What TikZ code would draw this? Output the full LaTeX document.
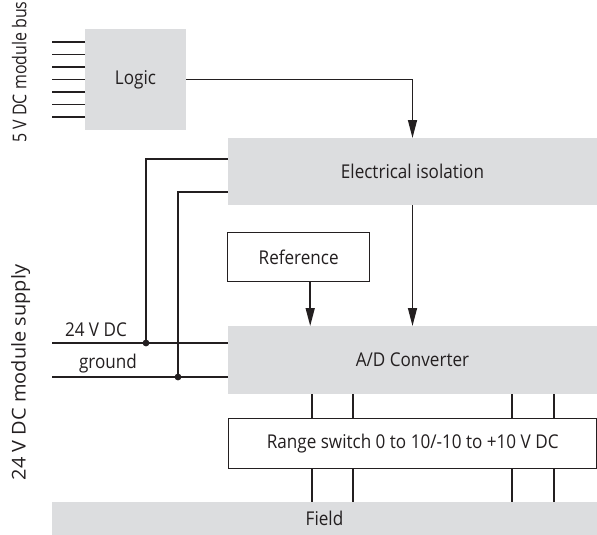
\documentclass[tikz,border=0pt]{standalone}
\usepackage{fontspec}
\usepackage{tikz}
\usetikzlibrary{arrows.meta}
\newfontfamily\labelfont[FakeStretch=0.9]{Open Sans}
\newfontfamily\buslabelfont[FakeStretch=0.84]{Open Sans}
\newfontfamily\supplylabelfont[FakeStretch=1.05]{Open Sans}
\definecolor{boxgray}{RGB}{220,221,223}
\definecolor{linegray}{RGB}{35,31,32}

\begin{document}
\begin{tikzpicture}[x=1pt, y=1pt,
	every node/.style={font=\labelfont\fontsize{19}{22}\selectfont, text=linegray, inner sep=0pt, outer sep=0pt},
	graybox/.style={rectangle, fill=boxgray, anchor=north west},
	whitebox/.style={rectangle, draw=linegray, line width=1.5pt, fill=white, anchor=north west},
	wire/.style={draw=linegray, line width=1.5pt},
	arrow/.style={wire, -{Triangle[length=18pt, width=9pt]}}]
	\useasboundingbox (0,0) rectangle (597,-535);
	% boxes
	\node[graybox, minimum width=101pt, minimum height=101pt] (logic) at (85,-29) {Logic};
	\node[graybox, minimum width=369pt, minimum height=67pt] (isol) at (228,-138) {Electrical isolation};
	\node[whitebox, minimum width=142pt, minimum height=49pt] (ref) at (227.7,-232.7) {Reference};
	\node[graybox, minimum width=369pt, minimum height=68pt] (ad) at (228,-326) {A/D Converter};
	\node[whitebox, minimum width=368pt, minimum height=50pt] (range) at (228.7,-418.7) {Range switch 0 to 10/-10 to +10 V DC};
	\node[graybox, minimum width=545pt, minimum height=33pt] (field) at (52,-502) {Field};
	% side labels
	\node[rotate=90, anchor=base, font=\buslabelfont\fontsize{19}{22}\selectfont] (buslabel) at (26.5,-72) {5 V DC module bus};
	\node[rotate=90, anchor=base, font=\supplylabelfont\fontsize{19}{22}\selectfont] (supplylabel) at (25.5,-372.5) {24 V DC module supply};
	\node[anchor=base west] (vdclabel) at (65,-336) {24 V DC};
	\node[anchor=base west] (gndlabel) at (79,-368) {ground};
	% module bus
	\foreach \k in {0,...,6}
		\draw[wire] ([yshift={-13pt-12.5pt*\k}]logic.north west) -- ++(-33,0);
	\draw[arrow] (logic.east) -| (isol.north);
	% supply
	\coordinate (vdcin) at (52,-343);
	\coordinate (gndin) at (52,-377);
	\coordinate (vdcdot) at (146,-343);
	\coordinate (gnddot) at (178,-377);
	\draw[wire] (vdcin) -- (vdcin -| ad.west);
	\draw[wire] (gndin) -- (gndin -| ad.west);
	\draw[wire] (vdcdot) |- ([yshift=-21pt]isol.north west);
	\draw[wire] (gnddot) |- ([yshift=-54pt]isol.north west);
	\fill[linegray] (vdcdot) circle (3.4) (gnddot) circle (3.4);
	% signal path
	\draw[arrow] ([xshift=11.5pt]ref.south) -- ([xshift=11.5pt]ref.south |- ad.north);
	\draw[arrow] (isol.south) -- (ad.north);
	\foreach \x in {312,353,512,554} {
		\draw[wire] (ad.south -| \x,0) -- (range.north -| \x,0);
		\draw[wire] (range.south -| \x,0) -- (field.north -| \x,0);
	}
\end{tikzpicture}
\end{document}
